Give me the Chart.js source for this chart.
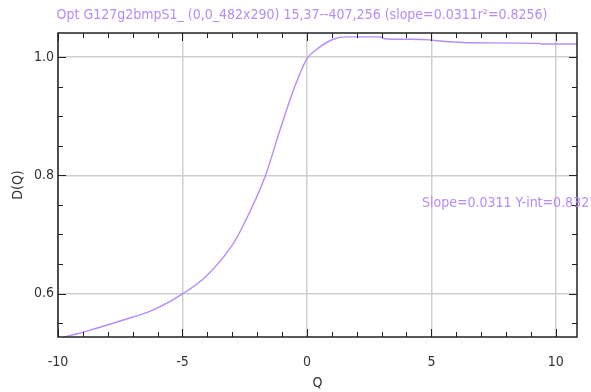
<!DOCTYPE html>
<html>
<head>
<meta charset="utf-8">
<script src="https://cdn.jsdelivr.net/npm/chart.js@4.4.0/dist/chart.umd.min.js"></script>
<style>
  html, body { margin: 0; padding: 0; background: #ffffff; }
  #wrap { width: 591px; height: 392px; }
</style>
</head>
<body>
<div id="wrap"><canvas id="chart" width="591" height="392"></canvas></div>
<script>
// values
const qValues = [-10, -8.74, -7.41, -6.2, -4.98, -4.08, -3.0, -2.55, -1.68, -1.08, -0.5, 0, 0.46, 1.06, 1.59, 2.92, 3.12, 3.99, 4.92, 5.32, 6.72, 9.32, 9.39, 10.85];
const dValues = [0.524, 0.538, 0.555, 0.572, 0.600, 0.628, 0.682, 0.716, 0.798, 0.877, 0.949, 0.997, 1.015, 1.030, 1.034, 1.034, 1.031, 1.030, 1.029, 1.027, 1.024, 1.023, 1.022, 1.022];

const xTicks = [-10, -5, 0, 5, 10];
const yTicks = [0.6, 0.8, 1.0];
const xMinorStep = 1;
const yMinorStep = 0.05;

const titleText = "Opt G127g2bmpS1_ (0,0_482x290) 15,37--407,256 (slope=0.0311r\u00b2=0.8256)";
const noteText = "Slope=0.0311 Y-int=0.8327";

const purple = "#b68cf7";
const fontFam = "'DejaVu Sans Condensed', 'Liberation Sans Narrow', sans-serif";

const points = qValues.map((q, i) => ({ x: q, y: dValues[i] }));

// frame + inward ticks on all four sides, plus title and slope note
const framePlugin = {
    id: "frame",
    afterDatasetsDraw(chart) {
        const ctx = chart.ctx;
        const a = chart.chartArea;
        const xs = chart.scales.x;
        const ys = chart.scales.y;
        ctx.save();
        ctx.strokeStyle = "#222222";
        ctx.lineWidth = 1;
        ctx.beginPath();
        for (let v = Math.ceil(xs.min); v <= xs.max; v += xMinorStep) {
            const px = Math.round(xs.getPixelForValue(v)) + 0.5;
            const len = xTicks.includes(v) ? 8 : 5;
            ctx.moveTo(px, a.bottom); ctx.lineTo(px, a.bottom - len);
            ctx.moveTo(px, a.top); ctx.lineTo(px, a.top + len);
        }
        for (let v = 0.55; v <= ys.max; v += yMinorStep) {
            const r = Math.round(v * 100) / 100;
            const py = Math.round(ys.getPixelForValue(r)) + 0.5;
            const len = yTicks.some(t => Math.abs(t - r) < 1e-6) ? 8 : 5;
            ctx.moveTo(a.left, py); ctx.lineTo(a.left + len, py);
            ctx.moveTo(a.right, py); ctx.lineTo(a.right - len, py);
        }
        ctx.stroke();
        ctx.lineWidth = 1.5;
        ctx.strokeRect(a.left, a.top, a.right - a.left, a.bottom - a.top);

        ctx.fillStyle = purple;
        ctx.font = "14px " + fontFam;
        ctx.textBaseline = "middle";
        ctx.textAlign = "center";
        ctx.fillText(titleText, 302, 15);
        ctx.textAlign = "left";
        ctx.fillText(noteText, 422, 203);
        ctx.restore();
    }
};

new Chart(document.getElementById("chart"), {
    type: "scatter",
    data: {
        datasets: [{
            data: points,
            showLine: true,
            borderColor: purple,
            borderWidth: 1.4,
            pointRadius: 0,
            cubicInterpolationMode: "monotone",
            fill: false
        }]
    },
    options: {
        responsive: false,
        animation: false,
        layout: { padding: { left: 0, right: 14, top: 33, bottom: 0 } },
        plugins: {
            legend: { display: false },
            tooltip: { enabled: false }
        },
        scales: {
            x: {
                type: "linear",
                min: -10,
                max: 10.85,
                afterBuildTicks: (scale) => { scale.ticks = xTicks.map(v => ({ value: v })); },
                afterFit: (scale) => { scale.height = 55; },
                grid: { color: "#cfcfcf", lineWidth: 1.5, drawTicks: false },
                border: { display: false },
                ticks: {
                    color: "#333333",
                    font: { family: fontFam, size: 14 },
                    padding: 17,
                    maxRotation: 0
                },
                title: {
                    display: true,
                    text: "Q",
                    color: "#333333",
                    font: { family: fontFam, size: 14 },
                    padding: { top: 0, bottom: 0 }
                }
            },
            y: {
                type: "linear",
                min: 0.5267,
                max: 1.0406,
                afterBuildTicks: (scale) => { scale.ticks = yTicks.map(v => ({ value: v })); },
                afterFit: (scale) => { scale.width = 58; },
                grid: { color: "#cfcfcf", lineWidth: 1.5, drawTicks: false },
                border: { display: false },
                ticks: {
                    color: "#333333",
                    font: { family: fontFam, size: 14 },
                    padding: 4,
                    callback: (v) => v.toFixed(1)
                },
                title: {
                    display: true,
                    text: "D(Q)",
                    color: "#333333",
                    font: { family: fontFam, size: 14 },
                    padding: { top: 10, bottom: 0 }
                }
            }
        }
    },
    plugins: [framePlugin]
});
</script>
</body>
</html>
